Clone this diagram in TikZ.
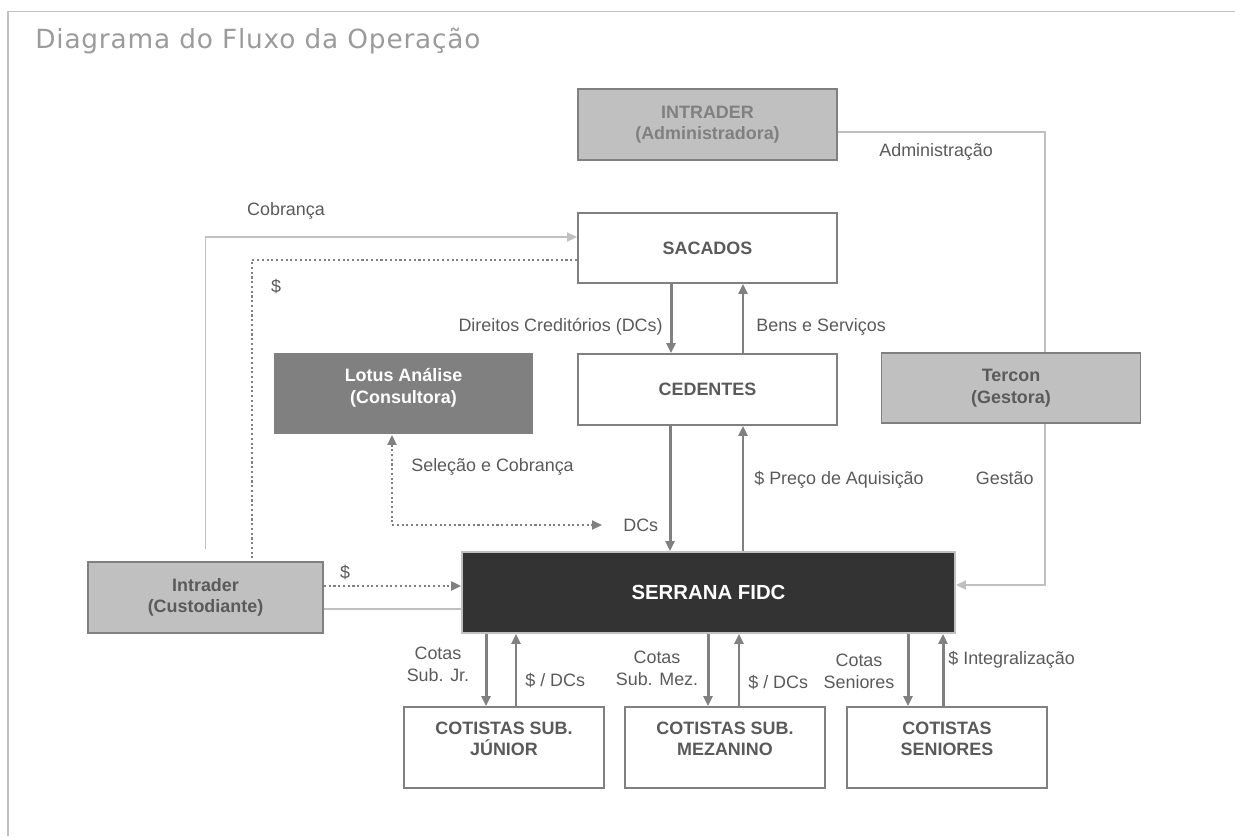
\documentclass[tikz,border=0pt]{standalone}
\usepackage{fontspec}
\setmainfont{Liberation Sans}
\newfontfamily\titlefont[LetterSpace=3]{DejaVu Sans}
\usetikzlibrary{positioning,arrows.meta,calc}
\definecolor{dkg}{HTML}{808080}
\definecolor{ltg}{HTML}{C0C0C0}
\definecolor{txg}{HTML}{5A5A5A}
\definecolor{blk}{HTML}{333333}
\definecolor{ttl}{HTML}{9B9B9B}
\tikzset{
  gb/.style={rectangle, minimum width=5.18cm, minimum height=1.42cm, text centered, align=center, draw=dkg, fill=ltg, line width=1.1pt, inner sep=0pt, text=txg, font=\bfseries\fontsize{10.2}{12.3}\selectfont},
  wb/.style={gb, fill=white},
  lb/.style={gb, draw=none, fill=dkg, text=white, minimum height=1.62cm},
  fb/.style={gb, draw=ltg, fill=blk, text=white, minimum width=9.86cm, minimum height=1.62cm, font=\bfseries\fontsize{11.6}{13}\selectfont},
  cb/.style={wb, minimum width=4cm, minimum height=1.62cm},
  bt/.style={align=center, inner sep=0pt, text=txg, font=\bfseries\fontsize{10.2}{12.3}\selectfont},
  lbl/.style={align=center, inner sep=0pt, text=txg, font=\fontsize{10.2}{12.5}\selectfont},
  dk/.style={draw=dkg, line width=1.7pt, ->},
  lt/.style={draw=ltg, line width=1.1pt},
  dt/.style={draw=dkg, line width=1.2pt, dash pattern=on 1.2pt off 1.5pt}
}

\begin{document}
\begin{tikzpicture}[x=0.02cm, y=-0.02cm, >={Triangle[length=0.2cm, width=0.18cm]}]
	\useasboundingbox (0,0) rectangle (1235,836);
	\draw[lt] (1235,11.5) -- (8,11.5) -- (8,836);
	\node[anchor=base west, inner sep=0pt, text=ttl, font=\titlefont\fontsize{15}{18}\selectfont] (title) at (35,48) {Diagrama do Fluxo da Operação};
	%
	\node[gb, text=dkg] (adm) at (707.5,124.5) {INTRADER\\(Administradora)};
	\node[wb, minimum height=1.4cm] (sac) at (707.5,248) {SACADOS};
	\node[wb] (ced) at (707.5,389.5) {CEDENTES};
	\node[lb] (lot) at (403.5,393.5) {};
	\node[bt, text=white] (tlot) at ([yshift=0.12cm]lot.center) {Lotus Análise\\(Consultora)};
	\node[gb, minimum height=1.4cm] (ter) at (1011,388) {Tercon\\(Gestora)};
	\node[fb] (ser) at (708.5,592.5) {SERRANA FIDC};
	\node[gb, minimum width=4.7cm] (cus) at (205.5,597.5) {Intrader\\(Custodiante)};
	\node[cb] (cjr) at (504,747.5) {};
	\node[cb] (cmz) at (725,747.5) {};
	\node[cb] (csn) at (947,747.5) {};
	\node[bt] (tjr) at ([yshift=0.17cm]cjr.center) {COTISTAS SUB.\\JÚNIOR};
	\node[bt] (tmz) at ([yshift=0.17cm]cmz.center) {COTISTAS SUB.\\MEZANINO};
	\node[bt] (tsn) at ([yshift=0.17cm]csn.center) {COTISTAS\\SENIORES};
	%
	\node[lbl] (lcob) at (286,211) {Cobrança};
	\node[lbl] (ldol) at (276,286) {\$};
	\node[lbl, anchor=east] (ldir) at (663,327) {Direitos Creditórios (DCs)};
	\node[lbl, anchor=west] (lben) at (756,327) {Bens e Serviços};
	\node[lbl, anchor=west] (ladm) at (879,152) {Administração};
	\node[lbl, anchor=west] (lsel) at (411,467) {Seleção e Cobrança};
	\node[lbl, anchor=west] (ldcs) at (623,525) {DCs};
	\node[lbl, anchor=west] (lpre) at (754,480) {\$ Preço de Aquisição};
	\node[lbl, anchor=east] (lges) at (1034,478) {Gestão};
	\node[lbl] (lcus) at (345,572) {\$};
	\node[lbl] (lcjr) at (438,664) {Cotas\\Sub. Jr.};
	\node[lbl, anchor=west] (lpjr) at (525,680) {\$ / DCs};
	\node[lbl] (lcmz) at (657,668.5) {Cotas\\Sub. Mez.};
	\node[lbl, anchor=west] (lpmz) at (748,682) {\$ / DCs};
	\node[lbl] (lcsn) at (859,671) {Cotas\\Seniores};
	\node[lbl, anchor=west] (lint) at (948,660) {\$ Integralização};
	%
	\draw[lt] ([yshift=-0.15cm]adm.east) -| ([xshift=0.68cm]ter.north);
	\draw[lt,->,ltg] ([xshift=0.68cm]ter.south) |- ([yshift=0.15cm]ser.east);
	\coordinate (cob) at ([yshift=0.24cm]cus.north);
	\draw[lt,->,ltg] (cob) |- ([yshift=0.22cm]sac.west);
	\draw[dt] ([yshift=-0.24cm]sac.west) -| ([xshift=0.93cm]cus.north);
	\draw[dk] ([xshift=-0.73cm]sac.south) -- ([xshift=-0.73cm]ced.north);
	\draw[dk] ([xshift=0.71cm]ced.north) -- ([xshift=0.71cm]sac.south);
	\draw[dk] ([xshift=-0.75cm]ced.south) -- ([xshift=-0.75cm]ced.south |- ser.north);
	\draw[dk] ([xshift=0.71cm]ced.south |- ser.north) -- ([xshift=0.71cm]ced.south);
	\draw[dt,<->] ([xshift=-0.23cm]lot.south) |- ([xshift=-0.42cm]ldcs.west);
	\draw[dt,->] ([yshift=0.23cm]cus.east) -- ([yshift=0.23cm]cus.east -| ser.west);
	\draw[lt] ([yshift=-0.23cm]cus.east) -- ([yshift=-0.23cm]cus.east -| ser.west);
	%
	\draw[dk] ([xshift=-0.36cm]cjr.north |- ser.south) -- ([xshift=-0.36cm]cjr.north);
	\draw[dk] ([xshift=0.24cm]cjr.north) -- ([xshift=0.24cm]cjr.north |- ser.south);
	\draw[dk] ([xshift=-0.34cm]cmz.north |- ser.south) -- ([xshift=-0.34cm]cmz.north);
	\draw[dk] ([xshift=0.28cm]cmz.north) -- ([xshift=0.28cm]cmz.north |- ser.south);
	\draw[dk] ([xshift=-0.78cm]csn.north |- ser.south) -- ([xshift=-0.78cm]csn.north);
	\draw[dk] ([xshift=-0.08cm]csn.north) -- ([xshift=-0.08cm]csn.north |- ser.south);
\end{tikzpicture}
\end{document}
